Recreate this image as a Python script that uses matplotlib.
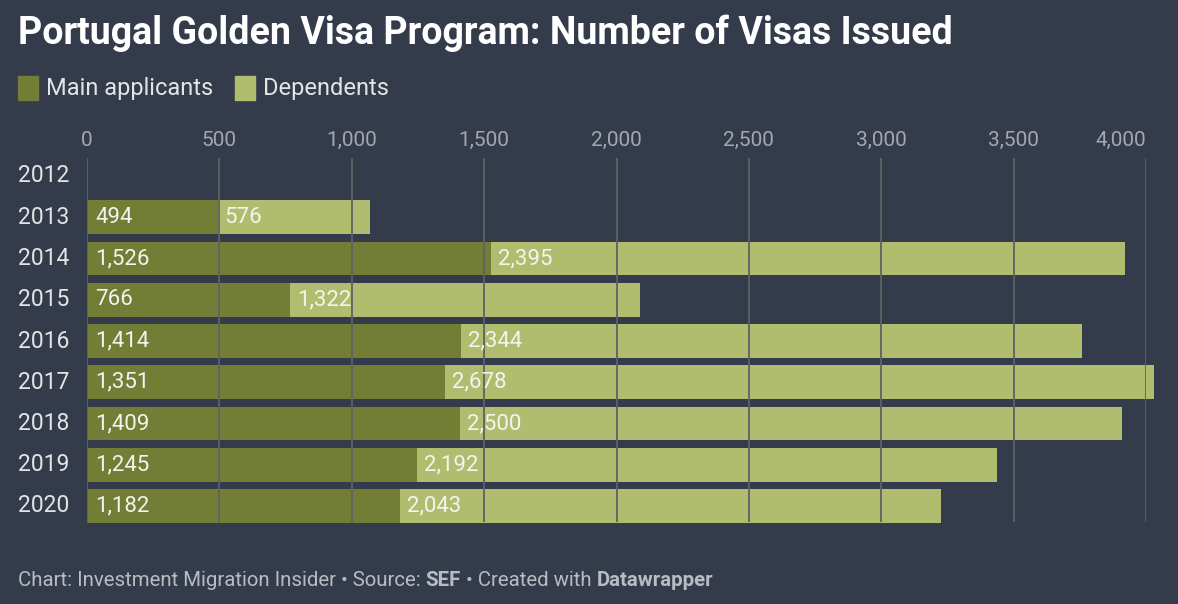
import matplotlib.pyplot as plt
import matplotlib.transforms as mtransforms
from matplotlib.patches import Rectangle

years = ['2012', '2013', '2014', '2015', '2016', '2017', '2018', '2019', '2020']
main_applicants = [0, 494, 1526, 766, 1414, 1351, 1409, 1245, 1182]
dependents = [0, 576, 2395, 1322, 2344, 2678, 2500, 2192, 2043]
ticks = [0, 500, 1000, 1500, 2000, 2500, 3000, 3500, 4000]

bg = '#343c4b'
c_main = '#727d35'
c_dep = '#b1bd6e'
grid_c = '#5d6266'

plt.rcParams['font.family'] = ['Roboto', 'DejaVu Sans']

W, H = 1178, 604
fig = plt.figure(figsize=(W / 100, H / 100), dpi=100, facecolor=bg)
ax = fig.add_axes([87 / W, 1 - 522 / H, (1146 - 87) / W, (522 - 158) / H])
ax.set_facecolor(bg)

y = list(range(len(years)))
ax.barh(y, main_applicants, height=0.82, color=c_main, zorder=2, clip_on=False)
ax.barh(y, dependents, left=main_applicants, height=0.82, color=c_dep,
        zorder=2, clip_on=False)

for i in y:
    if main_applicants[i] > 0:
        ax.annotate(f'{main_applicants[i]:,}', (0, i), xytext=(6, 0),
                    textcoords='offset points', va='center', ha='left',
                    color='#f4f4ee', fontsize=16, zorder=4)
    if dependents[i] > 0:
        ax.annotate(f'{dependents[i]:,}', (main_applicants[i], i), xytext=(5, 0),
                    textcoords='offset points', va='center', ha='left',
                    color='#f4f4ee', fontsize=16, zorder=4)

ax.set_xlim(0, 4000)
ax.set_ylim(8 + 16 / 41.25, -18 / 41.25)

for t in ticks:
    ax.axvline(t, color=grid_c, lw=1.3, zorder=3)

ax.xaxis.tick_top()
ax.set_xticks(ticks)
ax.set_xticklabels([f'{t:,}' for t in ticks], color='#a3a7ae', fontsize=15)
ax.get_xticklabels()[-1].set_ha('right')
ax.tick_params(axis='x', length=0, pad=6)
ax.set_yticks([])
for s in ax.spines.values():
    s.set_visible(False)

trans = mtransforms.blended_transform_factory(fig.transFigure, ax.transData)
for i, yr in enumerate(years):
    ax.text(18 / W, i, yr, transform=trans, ha='left', va='center',
            color='#e4e4e4', fontsize=16.5)

fig.text(18 / W, 1 - 33 / H, 'Portugal Golden Visa Program: Number of Visas Issued',
         color='white', fontsize=27, fontweight='bold', va='center', ha='left')

# legend
fig.patches.append(Rectangle((18 / W, 1 - 100 / H), 20 / W, 24 / H,
                             transform=fig.transFigure, color=c_main))
fig.text(46 / W, 1 - 88 / H, 'Main applicants', color='#e4e4e4', fontsize=17,
         va='center', ha='left')
fig.patches.append(Rectangle((235 / W, 1 - 100 / H), 20 / W, 24 / H,
                             transform=fig.transFigure, color=c_dep))
fig.text(263 / W, 1 - 88 / H, 'Dependents', color='#e4e4e4', fontsize=17,
         va='center', ha='left')

# footer
fx = 18 / W
fy = 1 - 580 / H
parts = [('Chart: Investment Migration Insider \u2022 Source: ', 'normal'),
         ('SEF', 'bold'),
         (' \u2022 Created with ', 'normal'),
         ('Datawrapper', 'bold')]
renderer = fig.canvas.get_renderer()
for txt, wt in parts:
    t = fig.text(fx, fy, txt, color='#b8bcc3', fontsize=14.7, fontweight=wt,
                 va='center', ha='left')
    bb = t.get_window_extent(renderer=renderer)
    fx += bb.width / W

fig.savefig('out.png', dpi=100, facecolor=bg)
